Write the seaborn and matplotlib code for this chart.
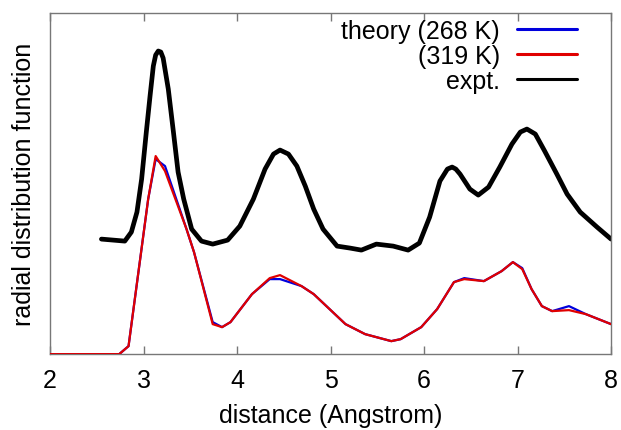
import matplotlib
matplotlib.use("Agg")
import matplotlib.pyplot as plt
import seaborn as sns
import pandas as pd

# experimental RDF (arbitrary units, offset)
expt_x = [2.55, 2.80, 2.87, 2.93, 2.98, 3.03, 3.07, 3.105, 3.13, 3.158, 3.185, 3.21, 3.265, 3.32, 3.37, 3.43,
          3.515, 3.62, 3.74, 3.90, 4.03, 4.175, 4.30, 4.39, 4.46, 4.55, 4.64, 4.73, 4.82, 4.92,
          5.07, 5.21, 5.33, 5.49, 5.67, 5.83, 5.95, 6.06, 6.17, 6.25, 6.30, 6.34, 6.385, 6.49, 6.58, 6.69,
          6.81, 6.94, 7.03, 7.10, 7.19, 7.29, 7.42, 7.53, 7.67, 7.85, 8.0]
expt_y = [115, 113, 122, 142, 175, 222, 258, 288, 299, 303, 302, 296, 265, 222, 182, 155,
          125, 113, 110, 114, 128, 155, 185, 200, 204, 200, 188, 168, 145, 125,
          108, 106, 104, 110, 108, 104, 111, 137, 173, 185, 187, 185, 180, 165, 159, 167,
          187, 210, 222, 225, 220, 203, 180, 160, 142, 127, 115]

# theory 268 K
t268_x = [2.0, 2.74, 2.84, 3.05, 3.13, 3.23, 3.46, 3.54, 3.74, 3.84, 3.93, 4.16, 4.35, 4.46, 4.69, 4.82,
          5.16, 5.37, 5.65, 5.75, 5.97, 6.14, 6.32, 6.43, 6.64, 6.83, 6.95, 7.05, 7.15, 7.26, 7.37,
          7.55, 7.73, 8.0]
t268_y = [0, 0, 8, 155, 195, 188, 125, 102, 32, 27, 32, 60, 75, 75, 68, 60,
          30, 20, 13, 15, 27, 45, 72, 76, 73, 83, 92, 86, 65, 48, 43,
          48, 40, 30]

# theory 319 K
t319_x = [2.0, 2.74, 2.84, 3.05, 3.13, 3.23, 3.46, 3.54, 3.74, 3.84, 3.93, 4.16, 4.35, 4.46, 4.69, 4.82,
          5.16, 5.37, 5.65, 5.75, 5.97, 6.14, 6.32, 6.43, 6.64, 6.83, 6.95, 7.05, 7.15, 7.26, 7.37,
          7.55, 7.73, 8.0]
t319_y = [0, 0, 8, 155, 198, 183, 125, 102, 30, 27, 32, 60, 76, 79, 68, 60,
          30, 20, 13, 15, 27, 45, 72, 75, 73, 83, 92, 85, 65, 48, 43,
          44, 40, 30]

labels = ["theory (268 K)", "(319 K)", "expt."]
xticks = [2, 3, 4, 5, 6, 7, 8]

sns.set_style("ticks")
plt.rcParams['font.family'] = ['Liberation Sans', 'DejaVu Sans']
plt.rcParams['text.color'] = 'black'
plt.rcParams['axes.labelcolor'] = 'black'
plt.rcParams['xtick.color'] = '#777777'
plt.rcParams['xtick.labelcolor'] = 'black'

fig = plt.figure(figsize=(6.21, 4.31), dpi=100)
ax = fig.add_axes([0.0805, 0.176, 0.9035, 0.7915])

df_e = pd.DataFrame({"x": expt_x, "y": expt_y})
df_b = pd.DataFrame({"x": t268_x, "y": t268_y})
df_r = pd.DataFrame({"x": t319_x, "y": t319_y})

sns.lineplot(data=df_e, x="x", y="y", ax=ax, color="black", lw=3.4, label=labels[2], zorder=2,
             solid_joinstyle="round", solid_capstyle="round")
sns.lineplot(data=df_b, x="x", y="y", ax=ax, color="#0000dd", lw=1.6, label=labels[0], zorder=3)
sns.lineplot(data=df_r, x="x", y="y", ax=ax, color="#e00000", lw=1.6, label=labels[1], zorder=4)

ax.set_xlim(2, 8)
ax.set_ylim(0, 341)
ax.set_xticks(xticks)
ax.set_xticklabels([str(t) for t in xticks])
ax.set_yticks([])
ax.tick_params(axis="x", direction="in", top=True, bottom=True, length=6, width=1,
               color="#777777", labelcolor="black", labelsize=18, pad=10)
for s in ax.spines.values():
    s.set_color("#777777")
    s.set_linewidth(1)
ax.set_xlabel("distance (Angstrom)", fontsize=18, labelpad=8, color="black")
ax.set_ylabel("radial distribution function", fontsize=18, labelpad=10, color="black")

h, l = ax.get_legend_handles_labels()
order = [l.index(x) for x in labels]
leg = ax.legend([h[i] for i in order], [l[i] for i in order], loc="upper right",
                bbox_to_anchor=(0.962, 1.02), frameon=False,
                markerfirst=False, fontsize=18, handlelength=2.4, labelspacing=0.05,
                borderaxespad=0.1, handletextpad=0.7)
for line in leg.get_lines():
    line.set_linewidth(2.2)

fig.savefig("out.png", dpi=100)
